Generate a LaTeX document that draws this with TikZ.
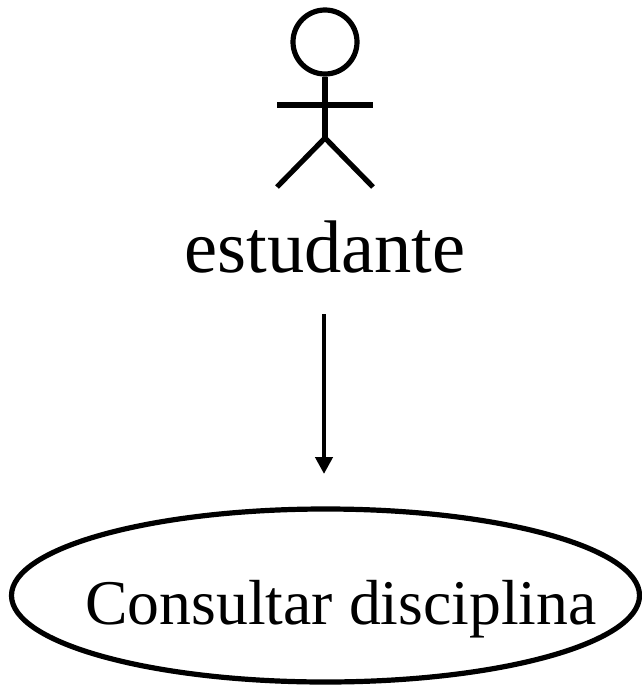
\documentclass[tikz,border=0pt]{standalone}
\usepackage{fontspec}
\setmainfont{Liberation Serif}
\usetikzlibrary{shapes.geometric,arrows.meta}
\tikzset{ink/.style={line width=5.2bp,draw=black,line cap=butt},
lbl/.style={inner sep=0pt,anchor=base,font=\fontsize{64bp}{64bp}\selectfont}}
\begin{document}
\begin{tikzpicture}[x=1bp,y=-1bp]
\useasboundingbox (0,0) rectangle (642,685);
\node[ink,draw,circle,minimum size=64bp,inner sep=0pt] (head) at (325,42) {};
\coordinate (hip) at (325,138);
\coordinate (la) at (277,105);
\coordinate (ra) at (373,105);
\coordinate (ll) at (277,187);
\coordinate (rl) at (373,187);
\draw[ink] (head.south) -- (hip);
\draw[ink] (la) -- (ra);
\draw[ink] (ll) -- (hip) -- (rl);
\node[lbl,font=\fontsize{74.5bp}{74.5bp}\selectfont] (actor) at (325,272) {estudante};
\coordinate (top) at (324,314);
\node[ink,draw,ellipse,minimum width=628bp,minimum height=173bp,inner sep=0pt] (uc) at (325.5,595.5) {};
\coordinate (tip) at (324,474);
\draw[line width=4.4bp,-{Triangle[length=17bp,width=17bp]}] (top) -- (tip);
\node[lbl,font=\fontsize{63.7bp}{63.7bp}\selectfont] (uct) at (341,624) {Consultar disciplina};
\end{tikzpicture}
\end{document}
